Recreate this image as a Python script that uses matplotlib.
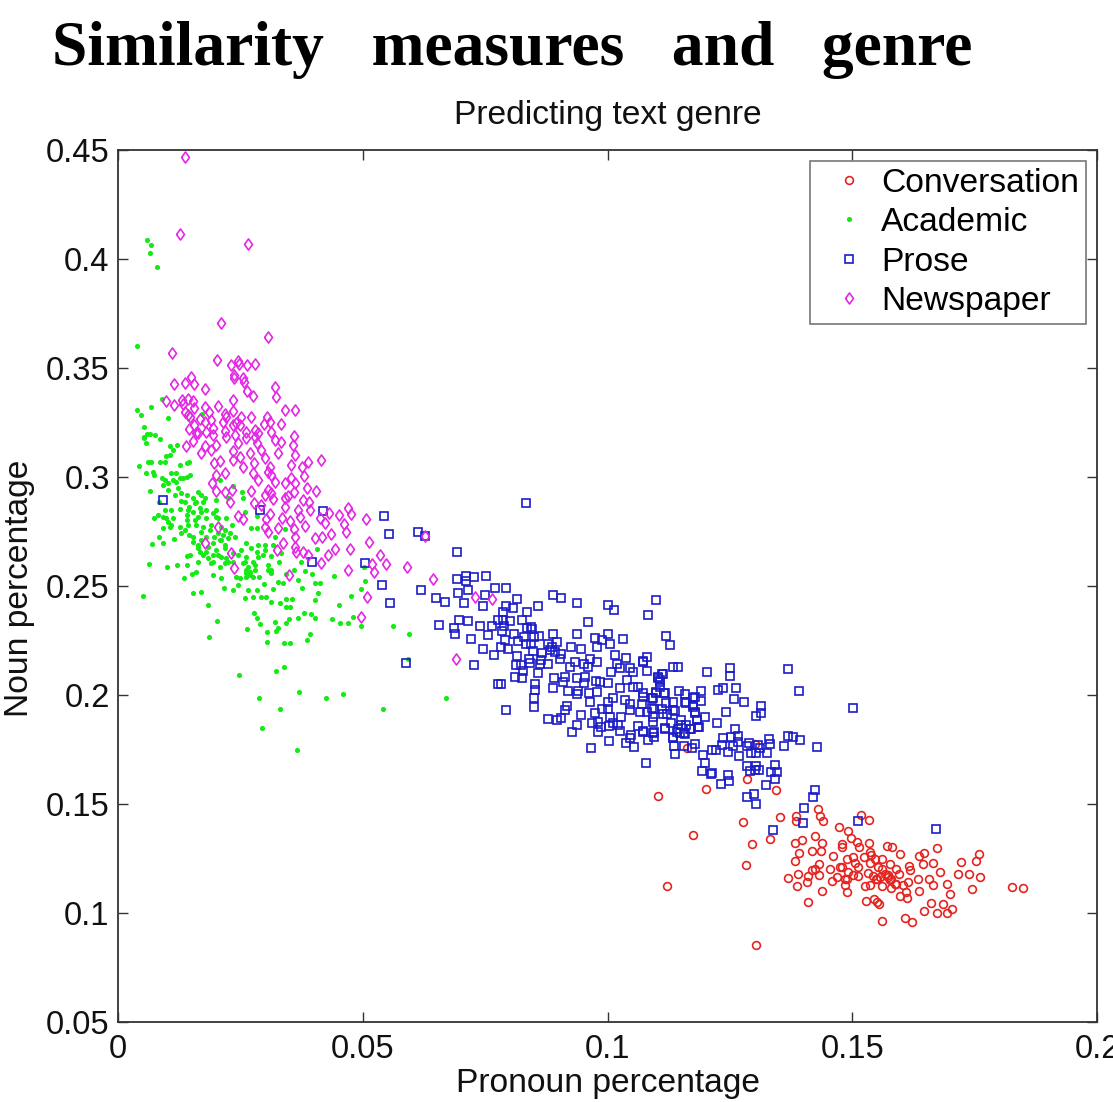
import matplotlib
matplotlib.use('Agg')
import matplotlib.pyplot as plt

# (pronoun, noun) percentages
conversation = [
 (.1104,.1538),(.1201,.1571),(.1285,.1616),(.1345,.1562),(.1163,.1755),(.1301,.1775),(.1121,.1125),(.1174,.1356),
 (.1277,.1418),(.1295,.1316),(.1283,.1221),(.1332,.1339),(.1353,.1441),(.1303,.0851),(.1386,.1447),(.1386,.1420),
 (.1430,.1476),(.1435,.1447),(.1441,.1424),(.1473,.1395),(.1492,.1377),(.1517,.1450),(.1535,.1426),(.1497,.1342),
 (.1509,.1327),(.1513,.1301),(.1534,.1319),(.1571,.1308),(.1582,.1301),(.1598,.1270),(.1537,.1281),(.1539,.1265),
 (.1524,.1255),(.1546,.1250),(.1561,.1246),(.1577,.1227),(.1560,.1204),(.1553,.1209),(.1536,.1230),(.1532,.1184),
 (.1543,.1169),(.1549,.1154),(.1556,.1166),(.1573,.1174),(.1580,.1158),(.1590,.1204),(.1596,.1178),(.1587,.1135),
 (.1604,.1128),(.1614,.1143),(.1616,.1215),(.1618,.1197),(.1637,.1261),(.1646,.1273),(.1645,.1224),(.1665,.1230),
 (.1673,.1297),(.1680,.1190),(.1635,.1157),(.1657,.1155),(.1665,.1129),(.1637,.1103),(.1609,.1097),(.1598,.1079),
 (.1611,.1068),(.1693,.1131),(.1700,.1089),(.1722,.1235),(.1752,.1238),(.1759,.1270),(.1717,.1181),(.1738,.1178),
 (.1762,.1163),(.1745,.1108),(.1827,.1120),(.1848,.1115),(.1660,.1047),(.1686,.1042),(.1703,.1019),(.1694,.1001),
 (.1674,.1000),(.1646,.1008),(.1622,.0961),(.1608,.0975),(.1560,.0962),(.1529,.1054),(.1545,.1062),(.1550,.1051),
 (.1554,.1040),(.1489,.1096),(.1439,.1099),(.1410,.1050),(.1388,.1123),(.1369,.1161),(.1389,.1181),(.1384,.1239),
 (.1392,.1273),(.1383,.1320),(.1398,.1336),(.1423,.1353),(.1438,.1319),(.1417,.1285),(.1436,.1284),(.1461,.1262),
 (.1479,.1316),(.1479,.1304),(.1432,.1223),(.1423,.1200),(.1417,.1197),(.1432,.1174),(.1409,.1169),(.1408,.1143),
 (.1454,.1200),(.1458,.1148),(.1468,.1166),(.1475,.1209),(.1480,.1212),(.1490,.1246),(.1502,.1255),(.1505,.1230),
 (.1512,.1212),(.1492,.1189),(.1502,.1174),(.1512,.1169),(.1485,.1158),(.1490,.1154),(.1486,.1128),(.1527,.1125),
 (.1537,.1128),(.1561,.1125),(.1579,.1115),(.1590,.1135),(.1573,.1166),(.1577,.1151),(.1551,.1158),(.1567,.1181),
]

academic = [
 (.0059,.4085),(.0067,.4062),(.0066,.4027),(.0080,.3963),(.0038,.3602),(.0038,.3307),(.0047,.3285),(.0068,.3320),
 (.0090,.3359),(.0103,.3270),(.0172,.3288),(.0053,.3230),(.0060,.3197),(.0075,.3192),(.0086,.3174),(.0054,.3177),
 (.0054,.3185),(.0058,.3155),(.0065,.3198),(.0042,.3052),(.0061,.3071),(.0068,.3071),(.0086,.3071),(.0097,.3071),
 (.0058,.3017),(.0072,.3025),(.0073,.3009),(.0099,.3097),(.0106,.3101),(.0112,.3124),(.0121,.3147),(.0106,.3143),
 (.0126,.3055),(.0140,.3063),(.0146,.3071),(.0119,.3017),(.0089,.2994),(.0092,.2964),(.0102,.2971),(.0112,.2986),
 (.0126,.2994),(.0140,.3002),(.0148,.3009),(.0065,.2936),(.0123,.2948),(.0129,.2925),(.0140,.2918),(.0163,.2933),
 (.0170,.2918),(.0177,.2902),(.0153,.2902),(.0128,.2892),(.0160,.2887),(.0174,.2887),(.0201,.2895),(.0208,.2987),
 (.0235,.2959),(.0253,.2933),(.0255,.2902),(.0225,.2902),(.0083,.2887),(.0095,.2849),(.0082,.2826),(.0074,.2811),
 (.0109,.2849),(.0126,.2852),(.0143,.2849),(.0153,.2841),(.0170,.2841),(.0180,.2849),(.0201,.2849),(.0259,.2841),
 (.0283,.2821),(.0099,.2811),(.0112,.2811),(.0140,.2803),(.0163,.2818),(.0180,.2811),(.0201,.2815),(.0221,.2811),
 (.0092,.2765),(.0106,.2772),(.0126,.2772),(.0143,.2780),(.0160,.2780),(.0191,.2780),(.0232,.2780),(.0272,.2765),
 (.0284,.2765),(.0341,.2762),(.0083,.2726),(.0114,.2716),(.0129,.2742),(.0146,.2734),(.0170,.2749),(.0204,.2742),
 (.0215,.2734),(.0225,.2719),(.0238,.2726),(.0320,.2726),(.0070,.2693),(.0091,.2696),(.0153,.2703),(.0163,.2688),
 (.0194,.2696),(.0211,.2711),(.0262,.2696),(.0286,.2688),(.0300,.2688),(.0167,.2658),(.0180,.2658),(.0201,.2665),
 (.0218,.2673),(.0252,.2665),(.0272,.2673),(.0283,.2658),(.0140,.2639),(.0148,.2642),(.0163,.2612),(.0184,.2627),
 (.0194,.2642),(.0211,.2635),(.0245,.2642),(.0262,.2635),(.0296,.2642),(.0313,.2639),(.0334,.2650),(.0407,.2670),
 (.0064,.2599),(.0101,.2586),(.0121,.2595),(.0140,.2596),(.0191,.2604),(.0218,.2604),(.0235,.2612),(.0255,.2604),
 (.0276,.2612),(.0328,.2612),(.0373,.2612),(.0151,.2555),(.0160,.2563),(.0135,.2535),(.0194,.2550),(.0211,.2535),
 (.0249,.2535),(.0262,.2573),(.0269,.2550),(.0279,.2573),(.0289,.2543),(.0306,.2573),(.0313,.2558),(.0343,.2555),
 (.0360,.2573),(.0383,.2567),(.0397,.2554),(.0441,.2546),(.0503,.2589),(.0504,.2524),(.0368,.2528),(.0326,.2520),
 (.0338,.2515),(.0245,.2505),(.0217,.2492),(.0234,.2480),(.0153,.2468),(.0170,.2474),(.0266,.2482),(.0283,.2482),
 (.0298,.2508),(.0317,.2485),(.0376,.2492),(.0402,.2512),(.0413,.2512),(.0409,.2466),(.0497,.2485),(.0259,.2443),
 (.0276,.2451),(.0293,.2451),(.0303,.2451),(.0313,.2428),(.0330,.2420),(.0344,.2439),(.0355,.2440),(.0402,.2436),
 (.0475,.2454),(.0052,.2454),(.0184,.2413),(.0344,.2402),(.0351,.2402),(.0451,.2413),(.0278,.2374),(.0283,.2352),
 (.0291,.2325),(.0203,.2339),(.0320,.2336),(.0349,.2347),(.0343,.2329),(.0368,.2352),(.0381,.2374),(.0394,.2371),
 (.0403,.2352),(.0437,.2347),(.0454,.2332),(.0469,.2332),(.0481,.2359),(.0496,.2318),(.0562,.2318),(.0595,.2281),
 (.0264,.2304),(.0304,.2290),(.0327,.2306),(.0323,.2293),(.0393,.2281),(.0186,.2267),(.0304,.2244),(.0339,.2237),
 (.0352,.2237),(.0386,.2251),(.0592,.2166),(.0339,.2130),(.0322,.2111),(.0247,.2091),(.0370,.2016),(.0288,.1987),
 (.0425,.1984),(.0460,.2003),(.0671,.1984),(.0331,.1934),(.0542,.1934),(.0295,.1848),(.0365,.1750),(.0262,.2558),
 # dense part of the cloud
 (.0146,.2864),(.0140,.2826),(.0157,.2803),(.0174,.2772),(.0187,.2757),(.0197,.2726),(.0208,.2711),(.0218,.2688),
 (.0170,.2711),(.0184,.2680),(.0204,.2642),(.0221,.2627),(.0235,.2650),(.0259,.2612),(.0266,.2589),(.0269,.2566),
 (.0279,.2596),(.0262,.2543),(.0157,.2879),(.0167,.2856),(.0136,.2887),(.0116,.2918),(.0102,.2941),(.0095,.2987),
 (.0119,.2979),(.0133,.2994),(.0109,.3017),(.0092,.2818),(.0102,.2795),(.0109,.2780),(.0136,.2757),(.0153,.2726),
 (.0163,.2673),(.0174,.2642),(.0194,.2612),(.0208,.2589),(.0225,.2612),(.0242,.2543),(.0300,.2665),(.0317,.2688),
 (.0286,.2635),(.0306,.2596),(.0313,.2573),(.0276,.2543),(.0194,.2834),(.0204,.2811),(.0211,.2772),(.0218,.2757),
 (.0228,.2742),(.0180,.2726),
]

prose = [
 (.0091,.2895),(.0291,.2849),(.0419,.2846),(.0396,.2610),(.0543,.2820),(.0554,.2740),(.0505,.2604),(.0612,.2746),
 (.0627,.2731),(.0539,.2504),(.0620,.2483),(.0650,.2443),(.0669,.2425),(.0555,.2420),(.0656,.2321),(.0589,.2145),
 (.0834,.2883),(.0692,.2654),(.0693,.2533),(.0711,.2545),(.0711,.2524),(.0727,.2539),(.0752,.2544),(.0694,.2466),
 (.0716,.2480),(.0706,.2420),(.0750,.2460),(.0771,.2490),(.0793,.2492),(.0746,.2406),(.0815,.2440),(.0793,.2408),
 (.0807,.2398),(.0786,.2380),(.0835,.2379),(.0859,.2409),(.0889,.2460),(.0904,.2443),(.0937,.2423),(.1002,.2415),
 (.1013,.2388),(.1099,.2434),(.1083,.2366),(.0961,.2337),(.0697,.2346),(.0714,.2340),(.0687,.2308),(.0688,.2282),
 (.0740,.2317),(.0765,.2317),(.0777,.2343),(.0801,.2340),(.0826,.2343),(.0787,.2343),(.0788,.2317),(.0785,.2293),
 (.0835,.2308),(.0844,.2313),(.0845,.2302),(.0756,.2275),(.0722,.2258),(.0808,.2282),(.0829,.2267),(.0850,.2267),
 (.0861,.2271),(.0818,.2249),(.0790,.2253),(.0833,.2236),(.0843,.2236),(.0782,.2221),(.0746,.2209),(.0797,.2209),
 (.0769,.2184),(.0847,.2200),(.0816,.2178),(.0728,.2137),(.0814,.2137),(.0823,.2137),(.0839,.2167),(.0842,.2148),
 (.0867,.2193),(.0865,.2160),(.0862,.2141),(.0857,.2102),(.0827,.2109),(.0812,.2083),(.0826,.2080),(.0777,.2051),
 (.0782,.2051),(.0793,.1933),(.0852,.2050),(.0852,.2022),(.0850,.1984),(.0850,.1947),(.0878,.1889),(.0897,.1887),
 (.0906,.1894),(.0913,.1930),(.0917,.1950),(.0946,.1907),(.0937,.1861),(.0928,.1828),(.0968,.1872),(.0980,.1874),
 (.0987,.1854),(.0981,.1828),(.0966,.1756),(.1004,.1790),(.1004,.1858),(.1006,.1897),(.1027,.1900),(.1012,.1872),
 (.1022,.1864),(.1025,.1834),(.1062,.1858),(.1073,.1831),(.1049,.1816),(.1046,.1805),(.1038,.1780),(.1055,.1762),
 (.1083,.1793),(.1094,.1828),(.1094,.1808),(.1079,.1690),(.1117,.1843),(.1134,.1805),(.1136,.1767),(.1137,.1731),
 (.1145,.1846),(.1158,.1823),(.1168,.1846),(.1185,.1854),(.1121,.1915),(.1092,.1900),(.1066,.1920),(.1080,.1923),
 (.1138,.1927),(.1151,.1884),(.1182,.1884),(.0879,.2236),(.0886,.2221),(.0893,.2198),(.0882,.2206),(.0889,.2278),
 (.0897,.2244),(.0906,.2190),(.0903,.2167),(.0879,.2141),(.0891,.2080),(.0888,.2034),(.0910,.2060),(.0914,.2083),
 (.0920,.2017),(.0925,.2221),(.0937,.2279),(.0946,.2210),(.0934,.2152),(.0923,.2129),(.0952,.2144),(.0961,.2129),
 (.0937,.2076),(.0954,.2083),(.0953,.2053),(.0940,.2019),(.0937,.2004),(.0963,.2007),(.0964,.1968),(.0978,.2014),
 (.0976,.2063),(.0985,.2060),(.1002,.2053),(.0974,.2262),(.1002,.2282),(.0988,.2252),(.1005,.2233),(.1015,.2183),
 (.0978,.2221),(.0964,.2167),(.0979,.2152),(.1032,.2259),(.1038,.2170),(.1020,.2144),(.1008,.2106),(.1025,.2122),
 (.1046,.2122),(.1053,.2106),(.1072,.2155),(.1081,.2175),(.1080,.2111),(.1119,.2270),(.1128,.2229),(.1133,.2129),
 (.1145,.2129),(.1114,.2096),(.1104,.2076),(.1107,.2060),(.1100,.2014),(.1117,.2007),(.1147,.2019),(.1158,.2004),
 (.1175,.1988),(.1134,.1969),(.1158,.1969),(.1092,.1984),(.1073,.2007),(.1063,.2037),(.1053,.2037),(.1039,.2068),
 (.1025,.2030),(.1012,.1984),(.1002,.1969),(.0988,.1938),(.0974,.1918),(.1000,.1938),(.1036,.1976),(.1046,.1961),
 (.1046,.1930),(.1070,.1958),(.1094,.1938),(.1111,.1938),(.1175,.1953),(.1179,.1923),(.1203,.2107),(.1251,.2122),
 (.1251,.2087),(.1368,.2121),(.1392,.2020),(.1502,.1939),(.1225,.2024),(.1236,.2030),(.1263,.2032),(.1259,.1981),
 (.1278,.1966),(.1313,.1949),(.1313,.1919),(.1304,.1903),(.1242,.1922),(.1224,.1870),(.1192,.2020),(.1191,.1971),
 (.1178,.1992),(.1175,.1946),(.1178,.1916),(.1199,.1897),(.1187,.1854),(.1170,.1844),(.1182,.1885),(.1161,.1962),
 (.1151,.1862),(.1141,.1831),(.1148,.1824),(.1157,.1824),(.1161,.1862),(.1133,.1808),(.1178,.1773),(.1172,.1758),
 (.1157,.1766),(.1196,.1727),(.1199,.1688),(.1193,.1651),(.1211,.1637),(.1214,.1643),(.1231,.1591),(.1247,.1633),
 (.1248,.1607),(.1214,.1750),(.1221,.1750),(.1234,.1770),(.1235,.1801),(.1246,.1737),(.1253,.1808),(.1257,.1766),
 (.1260,.1842),(.1266,.1813),(.1267,.1786),(.1268,.1720),(.1284,.1766),(.1289,.1778),(.1294,.1735),(.1303,.1735),
 (.1308,.1770),(.1311,.1755),(.1326,.1735),(.1332,.1773),(.1330,.1798),(.1360,.1767),(.1369,.1810),(.1379,.1807),
 (.1394,.1792),(.1427,.1763),(.1285,.1674),(.1303,.1674),(.1342,.1678),(.1292,.1652),(.1301,.1655),(.1310,.1655),
 (.1335,.1648),(.1347,.1646),(.1342,.1614),(.1323,.1588),(.1285,.1533),(.1299,.1544),(.1303,.1501),(.1424,.1565),
 (.1419,.1532),(.1402,.1481),(.1400,.1412),(.1338,.1383),(.1512,.1423),(.1672,.1385),(.1073,.2153),(.1103,.2081),
 (.1108,.2069),(.1112,.2096),(.1107,.2038),(.1115,.2010),(.1100,.2010),(.1073,.1992),(.1091,.1984),(.1120,.1962),
 (.1134,.1931),(.1090,.1939),(.1114,.1911),(.1092,.1877),(.1117,.1847),(.1129,.1870),(.1073,.1835),(.1092,.1824),
]

newspaper = [
 (.0136,.4468),(.0126,.4116),(.0266,.4067),(.0210,.3707),(.0306,.3640),(.0111,.3571),(.0202,.3536),(.0230,.3515),
 (.0245,.3533),(.0247,.3518),(.0264,.3513),(.0280,.3518),(.0236,.3470),(.0236,.3452),(.0256,.3455),(.0258,.3434),
 (.0150,.3458),(.0137,.3432),(.0156,.3426),(.0114,.3425),(.0177,.3402),(.0264,.3394),(.0276,.3371),(.0321,.3415),
 (.0322,.3369),(.0235,.3351),(.0099,.3349),(.0115,.3331),(.0131,.3351),(.0143,.3360),(.0154,.3349),(.0133,.3337),
 (.0155,.3317),(.0204,.3327),(.0177,.3322),(.0185,.3299),(.0235,.3305),(.0341,.3308),(.0362,.3308),(.0136,.3299),
 (.0142,.3284),(.0148,.3276),(.0167,.3268),(.0177,.3253),(.0191,.3261),(.0218,.3288),(.0221,.3276),(.0215,.3253),
 (.0252,.3276),(.0272,.3273),(.0304,.3273),(.0310,.3253),(.0298,.3241),(.0332,.3244),(.0235,.3238),(.0242,.3246),
 (.0249,.3238),(.0155,.3238),(.0146,.3218),(.0195,.3227),(.0180,.3207),(.0160,.3200),(.0219,.3210),(.0262,.3207),
 (.0279,.3215),(.0286,.3200),(.0312,.3207),(.0360,.3189),(.0238,.3192),(.0194,.3192),(.0138,.3143),(.0153,.3167),
 (.0170,.3109),(.0178,.3140),(.0191,.3124),(.0201,.3147),(.0163,.3204),(.0197,.3063),(.0208,.3075),(.0201,.3009),
 (.0219,.3017),(.0192,.2974),(.0201,.2938),(.0218,.2933),(.0232,.2941),(.0228,.2884),(.0221,.3185),(.0235,.3117),
 (.0235,.3078),(.0249,.3094),(.0255,.3048),(.0245,.3155),(.0262,.3178),(.0269,.3109),(.0278,.3063),(.0276,.3020),
 (.0286,.2986),(.0272,.2938),(.0277,.2882),(.0300,.2918),(.0306,.2941),(.0293,.2872),(.0313,.2925),(.0317,.2898),
 (.0279,.3185),(.0283,.3155),(.0293,.3124),(.0300,.3086),(.0310,.3048),(.0313,.3009),(.0320,.2979),(.0306,.3025),
 (.0327,.3109),(.0321,.3170),(.0334,.3162),(.0358,.3147),(.0361,.3101),(.0354,.3055),(.0375,.3045),(.0389,.3069),
 (.0414,.3078),(.0380,.3005),(.0341,.2974),(.0354,.2994),(.0361,.2971),(.0360,.2933),(.0387,.2950),(.0405,.2934),
 (.0341,.2902),(.0347,.2913),(.0378,.2895),(.0390,.2887),(.0341,.2864),(.0368,.2849),(.0392,.2849),(.0310,.2830),
 (.0371,.2815),(.0335,.2811),(.0352,.2800),(.0303,.2806),(.0327,.2768),(.0306,.2749),(.0300,.2772),(.0360,.2760),
 (.0383,.2775),(.0361,.2726),(.0412,.2811),(.0432,.2833),(.0451,.2824),(.0422,.2788),(.0469,.2856),(.0475,.2829),
 (.0462,.2785),(.0465,.2749),(.0436,.2739),(.0417,.2723),(.0403,.2719),(.0507,.2807),(.0513,.2703),(.0474,.2671),
 (.0443,.2671),(.0429,.2642),(.0535,.2642),(.0548,.2601),(.0519,.2599),(.0523,.2566),(.0469,.2572),(.0414,.2604),
 (.0388,.2642),(.0377,.2654),(.0361,.2677),(.0364,.2658),(.0337,.2696),(.0325,.2665),(.0591,.2586),(.0644,.2532),
 (.0627,.2731),(.0509,.2451),(.0497,.2356),(.0350,.2550),(.0237,.2581),(.0230,.2650),(.0178,.2696),(.0204,.2772),
 (.0245,.2821),(.0256,.2806),(.0729,.2450),(.0765,.2441),(.0690,.2167),
]

series_names = ['Conversation', 'Academic', 'Prose', 'Newspaper']
xticks = [0, 0.05, 0.1, 0.15, 0.2]
xticklabels = ['0', '0.05', '0.1', '0.15', '0.2']
yticks = [0.05, 0.1, 0.15, 0.2, 0.25, 0.3, 0.35, 0.4, 0.45]
yticklabels = ['0.05', '0.1', '0.15', '0.2', '0.25', '0.3', '0.35', '0.4', '0.45']

W, H = 1113, 1102
plt.rcParams['font.family'] = ['Liberation Sans', 'DejaVu Sans']
fig = plt.figure(figsize=(W/100, H/100), dpi=100)
ax = fig.add_axes([118/W, 1-1022/H, (1097-118)/W, (1022-150)/H])

# wider than matplotlib's 'd'
diamond = [(-0.72, 0), (0, 1), (0.72, 0), (0, -1), (-0.72, 0)]
styles = [
    dict(marker='o', color='#e42420', ms=5.6, mfc='none', mew=1.2),
    dict(marker='o', color='#14ea14', ms=3.7, mew=0),
    dict(marker='s', color='#1c1cc8', ms=5.3, mfc='none', mew=1.2),
    dict(marker=diamond, color='#e428e4', ms=8.0, mfc='none', mew=1.2),
]
for pts, name, st in zip([conversation, academic, prose, newspaper], series_names, styles):
    xs = [p[0] for p in pts]
    ys = [p[1] for p in pts]
    ax.plot(xs, ys, ls='none', label=name, clip_on=False, **st)

ax.set_xlim(0, 0.2)
ax.set_ylim(0.05, 0.45)
ax.set_xticks(xticks)
ax.set_xticklabels(xticklabels)
ax.set_yticks(yticks)
ax.set_yticklabels(yticklabels)
ax.tick_params(direction='in', top=True, right=True, length=7, width=1.0, color='#333333',
               labelsize=23.5, labelcolor='#111111')
ax.tick_params(axis='x', pad=9)
ax.tick_params(axis='y', pad=6)
for s in ax.spines.values():
    s.set_linewidth(1.3)
    s.set_color('#333333')

fig.text(608/W, 1-124/H, 'Predicting text genre', ha='center', va='baseline', fontsize=24.2, color='#111111')
fig.text(608/W, 1-1092/H, 'Pronoun percentage', ha='center', va='baseline', fontsize=24.2, color='#111111')
fig.text(35/W, 1-588/H, 'Noun percentage', ha='right', va='center', rotation=90, fontsize=24.2, color='#111111')
fig.text(52/W, 1-65/H, 'Similarity   measures   and   genre', ha='left', va='baseline',
         fontsize=45.7, fontweight='bold', family=['Liberation Serif', 'DejaVu Serif'], color='black')

leg = ax.legend(loc='upper left', bbox_to_anchor=((810-118)/979, (1022-161)/872), fontsize=24.2,
                frameon=True, fancybox=False, edgecolor='#777777', framealpha=1, numpoints=1,
                borderaxespad=0, borderpad=0.2, labelspacing=0.25, handlelength=1.94,
                handletextpad=-0.03)
leg.get_frame().set_linewidth(1.2)

fig.savefig('out.png', dpi=100)
